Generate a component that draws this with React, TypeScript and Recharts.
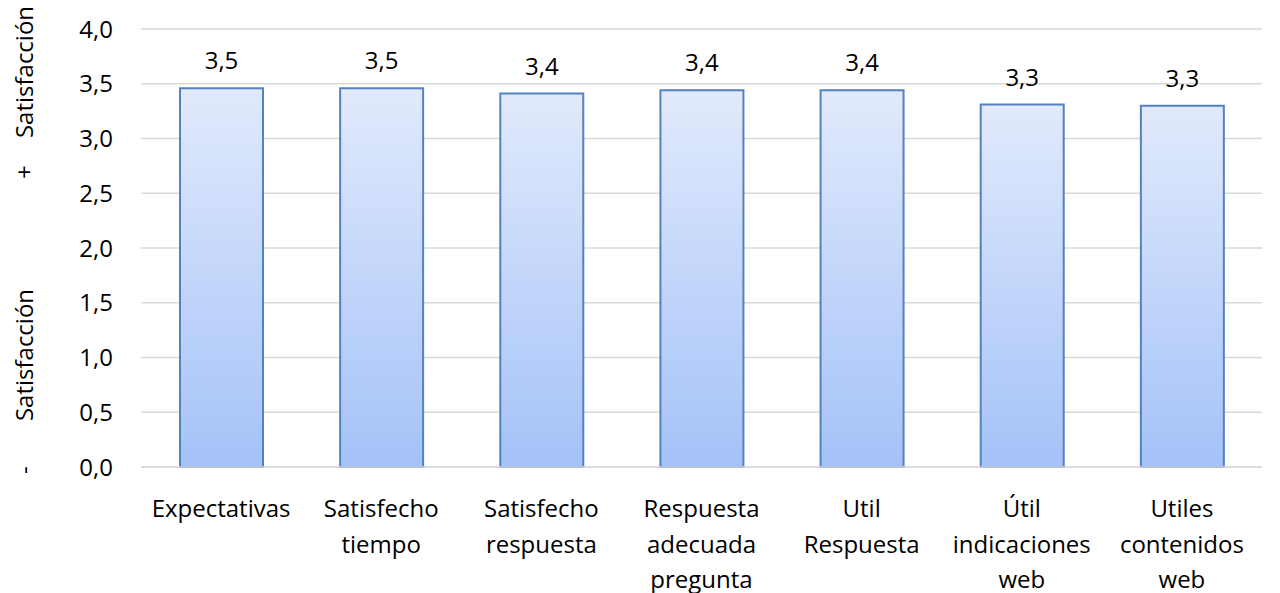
import { BarChart, Bar, XAxis, YAxis, CartesianGrid, LabelList } from 'recharts'

const categories = [
  'Expectativas',
  'Satisfecho\ntiempo',
  'Satisfecho\nrespuesta',
  'Respuesta\nadecuada\npregunta',
  'Util\nRespuesta',
  'Útil\nindicaciones\nweb',
  'Utiles\ncontenidos\nweb',
]
const scores = [3.46, 3.46, 3.41, 3.44, 3.44, 3.31, 3.3]
const yTicks = [0, 0.5, 1, 1.5, 2, 2.5, 3, 3.5, 4]

const data = categories.map((name, i) => ({ name, value: scores[i] }))

const FONT = '"Open Sans", "Liberation Sans", sans-serif'
const FS = 24
const fmt = (v: number) => v.toFixed(1).replace('.', ',')

function CategoryTick({ x, y, payload }: any) {
  const lines = String(payload.value).split('\n')
  return (
    <text x={x} y={y} textAnchor="middle" fontFamily={FONT} fontSize={FS} fill="#000">
      {lines.map((l, i) => (
        <tspan key={i} x={x} dy={i === 0 ? 42 : 35.5}>
          {l}
        </tspan>
      ))}
    </text>
  )
}

function AxisTitle() {
  // rotated title pieces on the left, as in the original sheet
  const parts = [
    { t: 'Satisfacción', y: 72 },
    { t: '+', y: 172 },
    { t: 'Satisfacción', y: 355 },
    { t: '-', y: 470 },
  ]
  return (
    <g>
      {parts.map((p, i) => (
        <text
          key={i}
          x={23}
          y={p.y}
          transform={`rotate(-90 23 ${p.y})`}
          textAnchor="middle"
          dominantBaseline="central"
          fontFamily={FONT}
          fontSize={FS}
          fill="#000"
        >
          {p.t}
        </text>
      ))}
    </g>
  )
}

export default function App() {
  return (
    <div style={{ width: 1280, height: 593, background: '#fff' }}>
      <style>{`body{margin:0}`}</style>
      <BarChart
        width={1280}
        height={593}
        data={data}
        margin={{ top: 29, right: 18, bottom: 0, left: 0 }}
      >
        <defs>
          <linearGradient id="barFill" x1="0" y1="0" x2="0" y2="1">
            <stop offset="0%" stopColor="#e1eafc" />
            <stop offset="100%" stopColor="#a4c2f8" />
          </linearGradient>
        </defs>
        <CartesianGrid vertical={false} stroke="#d9d9d9" strokeWidth={1.5} />
        <XAxis
          dataKey="name"
          tick={<CategoryTick />}
          tickLine={false}
          axisLine={{ stroke: '#d9d9d9', strokeWidth: 1.5 }}
          interval={0}
          height={126}
        />
        <YAxis
          domain={[0, 4]}
          ticks={yTicks}
          tickFormatter={fmt}
          width={141}
          tickLine={false}
          tickSize={0}
          tickMargin={28}
          axisLine={false}
          tick={{ fontFamily: FONT, fontSize: FS, fill: '#000' }}
        />
        <Bar
          dataKey="value"
          fill="url(#barFill)"
          stroke="#5581be"
          strokeWidth={2}
          barSize={83}
          isAnimationActive={false}
        >
          <LabelList
            dataKey="value"
            position="top"
            offset={19}
            formatter={(v: any) => fmt(Number(v))}
            style={{ fontFamily: FONT, fontSize: FS, fill: '#000' }}
          />
        </Bar>
        <AxisTitle />
      </BarChart>
    </div>
  )
}
